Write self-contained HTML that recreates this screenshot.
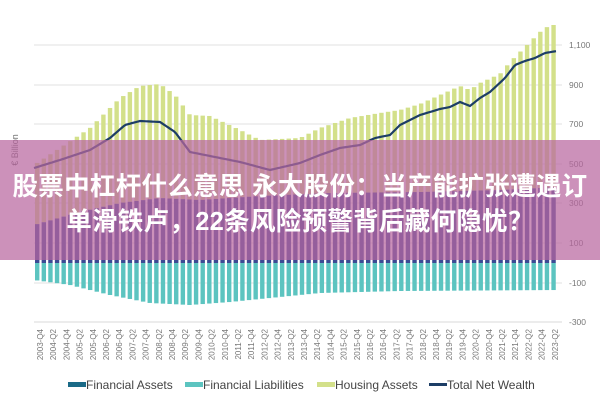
<!DOCTYPE html>
<html><head><meta charset="utf-8"><style>
body{margin:0;background:#fff;width:600px;height:400px;overflow:hidden;position:relative;font-family:"Liberation Sans",sans-serif}
svg{position:absolute;left:0;top:0}
.band{position:absolute;left:0;top:140px;width:600px;height:120px;background:rgba(184,102,160,0.72)}
.t{position:absolute;left:-20px;width:640px;text-align:center;color:#fff;font-weight:bold;font-size:25.5px;font-family:"Liberation Sans","Noto Sans CJK SC",sans-serif;letter-spacing:0.3px;white-space:nowrap}
</style></head><body>
<svg id="s" width="600" height="400" xmlns="http://www.w3.org/2000/svg"></svg>
<div class="band"></div>
<div class="t" style="top:166px">股票中杠杆什么意思 永大股份：当产能扩张遭遇订</div>
<div class="t" style="top:201px">单滑铁卢，22条风险预警背后藏何隐忧？</div>
<script>
const s=document.getElementById('s');let h='';
function interp(p,x){for(let i=0;i<p.length-1;i++){if(x<=p[i+1][0]){const t=(x-p[i][0])/(p[i+1][0]-p[i][0]);return p[i][1]+t*(p[i+1][1]-p[i][1]);}}return p[p.length-1][1];}
[45,85,124,164,203,243,283].forEach(y=>h+=`<line x1="34" x2="562" y1="${y}" y2="${y}" stroke="#e2e2e2" stroke-width="1"/>`);
h+=`<line x1="34" x2="562" y1="322" y2="322" stroke="#d8d8d8"/>`;
[['1,100',48],['900',88],['700',127],['500',167],['300',206],['100',246],['-100',286],['-300',325]].forEach(a=>h+=`<text x="569" y="${a[1]}" font-size="8.5" fill="#777">${a[0]}</text>`);
const housing=[[34,165],[60,148],[90,128],[120,98],[140,86],[160,84],[175,95],[190,115],[210,116],[240,130],[260,140],[300,138],[320,128],[350,118],[380,113],[400,110],[420,104],[440,95],[460,86],[470,90],[480,83],[500,74],[510,62],[520,52],[530,42],[540,32],[550,25],[560,25]];
const assets=[[34,225],[80,212],[120,203],[160,198],[200,200],[260,196],[330,193],[420,192],[500,190],[560,187]];
const liab=[[34,280],[70,285],[110,295],[150,303],[190,305],[230,302],[270,298],[320,293],[400,291],[560,290]];
const net=[[34,168],[60,160],[90,150],[110,138],[125,125],[140,121],[160,122],[175,132],[190,152],[210,156],[240,162],[270,170],[300,163],[320,155],[340,148],[360,145],[375,138],[390,135],[400,125],[420,115],[440,109],[450,107],[460,102],[470,106],[480,98],[490,92],[505,78],[515,65],[525,61],[535,58],[545,53],[557,51]];
for(let i=0;i<79;i++){const x=34+6.62*i+1;const cx=x+2.2;
 const ht=interp(housing,cx),at=interp(assets,cx),lb=interp(liab,cx);
 h+=`<rect x="${x}" y="${ht}" width="4.4" height="${at-ht}" fill="#d3e08a"/>`;
 h+=`<rect x="${x}" y="${at}" width="4.4" height="${263-at}" fill="#3c4a94"/>`;
 h+=`<rect x="${x}" y="263" width="4.4" height="${lb-263}" fill="#5cc4c0"/>`;}
let d='';for(let x=34;x<=557;x+=2)d+=(d?'L':'M')+x+','+interp(net,x).toFixed(1);
h+=`<path d="${d}" fill="none" stroke="#1d3e66" stroke-width="2.2"/>`;
for(let i=0;i<40;i++){const x=43+13.2*i;const q=i%2==0?'Q4':'Q2';
 const lab=(i%2==0?(2003+i/2):(2004+(i-1)/2))+'-'+q;
 h+=`<text transform="translate(${x},329) rotate(-90)" text-anchor="end" font-size="8" fill="#777">${lab}</text>`;}
h+=`<text transform="translate(18,150) rotate(-90)" text-anchor="middle" font-size="9" fill="#666">€ Billion</text>`;
h+=`<rect x="68" y="382" width="18" height="5" fill="#1a6a87"/><text x="86" y="389" font-size="12" fill="#444">Financial Assets</text>`;
h+=`<rect x="185" y="382" width="18" height="5" fill="#5cc4c0"/><text x="203" y="389" font-size="12" fill="#444">Financial Liabilities</text>`;
h+=`<rect x="317" y="382" width="18" height="5" fill="#d3e08a"/><text x="335" y="389" font-size="12" fill="#444">Housing Assets</text>`;
h+=`<rect x="429" y="383" width="18" height="3" fill="#1d3e66"/><text x="447" y="389" font-size="12" fill="#444">Total Net Wealth</text>`;
s.innerHTML=h;
</script>
</body></html>
